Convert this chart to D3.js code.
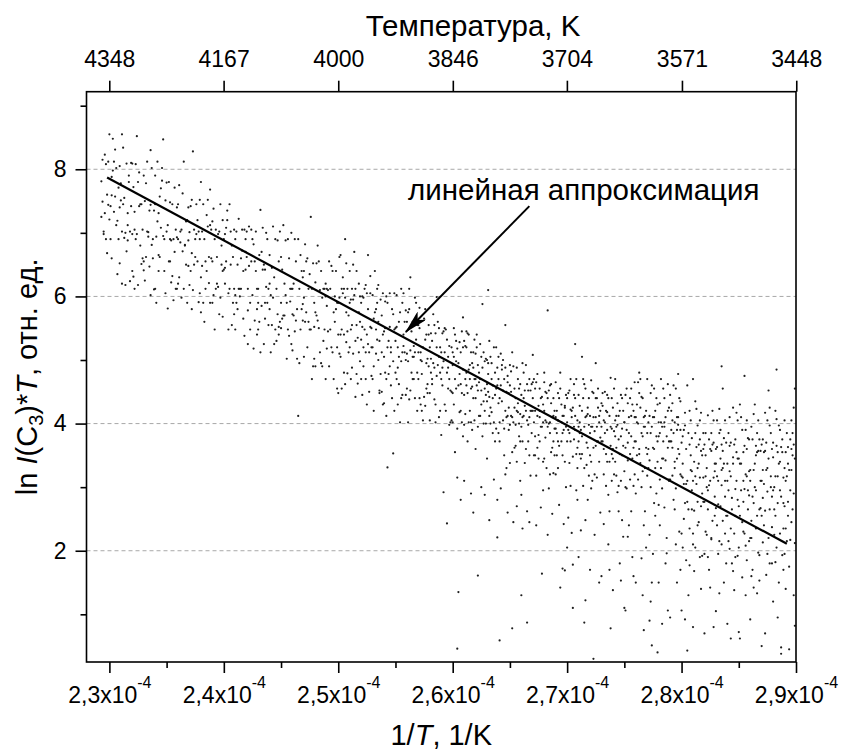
<!DOCTYPE html>
<html>
<head>
<meta charset="utf-8">
<script src="https://cdn.jsdelivr.net/npm/d3@7"></script>
<style>
  body { margin: 0; background: #fff; }
  svg { display: block; }
  text { font-family: "Liberation Sans", Arial, sans-serif; fill: #000; }
</style>
</head>
<body>
<svg id="chart" width="842" height="751"></svg>
<script>
// Axis ticks (1/T in units of 1e-4 1/K)
const xTicks = [2.3, 2.4, 2.5, 2.6, 2.7, 2.8, 2.9];
const xMinorTicks = [2.35, 2.45, 2.55, 2.65, 2.75, 2.85];
const yTicks = [2, 4, 6, 8];
const yMinorTicks = [1, 3, 5, 7, 9];
// Temperature labels on the top axis, K
const topTemps = [4348, 4167, 4000, 3846, 3704, 3571, 3448];

// Linear fit of ln I(C3)*T versus 1/T
const fitX = [2.298, 2.892];
const fitY = [7.87, 2.11];

// Annotation: label anchor and arrow from label to the fit line
const noteText = "линейная аппроксимация";
const notePos = [2.561, 7.52];
const arrowFrom = [2.667, 7.42];
const arrowTo = [2.559, 5.44];

// Measured points, grouped by 0.01 bins of 1/T.
// Row "229:..." = bin starting at 2.29; each token "dYYY" = x offset d (0.001), y = YYY/100.
const samples = [
"229:3781 5702 4815 7690 9744 6823 3725 8760 5698 9812 6731 4749 7808 8668",
"230:2788 7635 0721 4812 9740 1690 5757 3848 6802 8771 0855 2660 7719 4733 9805 1742 5831 6712 3798 8690 2759 9652",
"231:5809 1702 8624 3755 0751 6688 9742 2834 4618 7790 1855 3692 6731 0778 8702 5671 2745 9810 4700 7780 1620 6712",
"232:4852 0698 7745 2612 9705 5780 1631 3690 8651 6742 0809 4698 2733 7680 9660 1772 5618 3808 6795 8745 0640 2705",
"233:1750 6602 3812 8690 0641 5735 9611 2778 4694 7681 3702 0790 6744 8660 1625 9735 5647 2662 7802 4701 6830 0655",
"234:8690 2812 5708 0745 3640 7847 1590 9751 4662 6802 2718 8640 0612 5770 3731 7695 9605 1694 4757 6782 0790 3665",
"235:1581 6690 3748 9612 0702 4622 7771 2655 8705 5632 0779 3690 6594 9740 1712 4688 8612 2780 7670 5745 3655 9693",
"236:7650 0745 4671 2702 9688 5812 1630 8720 3598 6681 0620 4762 9648 2685 7718 1775 5612 8590 3705 6680 0690 9740",
"237:3828 0618 6745 2580 8702 4650 9690 1742 5662 7655 0701 3610 6698 9752 2668 8591 4705 1640 7720 5690 9605 2752",
"238:5640 1702 8768 0575 3690 7621 2745 9660 4612 6710 0780 8590 1648 5728 3560 9705 7662 2590 4655 6752 0630 8712",
"239:2690 6572 0718 9640 4620 7745 1602 5698 3612 8680 0655 6702 2548 9720 4662 7598 1738 3705 8650 5615 0590 9568",
"240:6702 1620 4548 9705 2655 7680 0690 5612 3735 8590 1645 6650 9612 2708 4605 7555 0642 5745 3720 8662 1698 9572",
"241:3612 8705 0548 5660 2580 9642 6672 1702 4600 7565 0690 3722 8538 5612 9670 2650 6705 1590 7640 4612 0602 9690",
"242:7562 2648 0702 5690 9612 3548 6682 1578 8640 4705 0662 5602 2710 7655 9540 1612 3590 6518 8702 4655 1525 9580",
"243:2736 6590 0548 4642 8690 3670 9612 1665 5525 7700 0612 3585 6642 9555 2512 8590 4708 1560 7615 5650 0590 6565",
"244:5548 1602 8655 3710 0580 6612 9560 2645 4525 7688 1512 5690 0620 8552 3598 9702 2555 6530 4630 7572 0665 8540",
"245:9612 3570 6690 0550 4602 2712 7538 1642 5590 8592 0662 3620 9525 6548 2570 4688 8612 1565 5502 7660 0590 9700",
"246:4502 0612 7665 2545 9588 5690 1570 6612 3562 8640 0515 4580 2690 9562 7548 5412 1620 8580 3655 6495 0572 9630",
"247:6725 1560 4612 9502 2655 7470 0598 5635 3520 8652 1682 6548 9590 4560 2575 7612 0505 5548 3660 8490 0640 9552",
"248:3550 8612 0490 5640 2562 9470 6598 1652 4512 7612 0575 3655 8548 5495 9620 2680 6490 1570 7530 4610 0622 9600",
"249:7560 2490 5640 0585 9520 3612 6470 1545 4648 8580 0612 5512 2655 9455 7600 3548 1610 6575 4520 8640 0518 9590",
"250:0448 8479 3612 5540 1598 7652 2505 9570 4630 6462 0590 3548 8612 5480 1662 7575 2540 9512 4605 6690 0540 3455 7528 5612 2665 8545 1510 6598",
"251:7463 2612 5530 0590 9498 3650 6555 1470 4602 8575 0520 3595 6640 9560 2488 5612 8512 1548 4670 7535 0640 3510 9600 6478 2555 5442 8620 1595",
"252:6665 1552 4470 8605 2520 0590 5540 9475 3612 7512 1445 6580 0532 4618 8552 2490 5605 9520 3548 7450 0470 6525 2598 8632 4512 1600 9550 5430",
"253:2640 6530 0470 4590 8512 3548 9605 1420 5560 7478 0602 3510 6448 9540 2575 5618 8450 4532 1565 7595 0520 6452 3580 9430 5500 8570 1490 4612",
"254:3331 8353 0545 5490 2600 6512 9420 1550 4478 7580 0432 3590 6520 9548 2470 5605 8498 1592 4530 7440 0505 5552 2412 9605 6460 3520 8572 1480",
"255:6512 0480 3560 9445 1602 5498 7540 2430 4575 8512 0550 6445 3505 9578 1470 5612 7522 2488 8560 4402 0530 6590 3462 9500 1552 5440 7605 2520",
"256:3630 7512 0455 5560 1498 9420 4545 2580 6470 8532 0510 3452 7598 5505 1402 9555 4480 6522 2438 8590 0560 5470 3515 9480 7440 1575 6505 2612",
"257:5442 6428 7455 1550 3478 0512 8502 2430 9555 4520 6580 0470 3498 7540 1440 5565 8462 2512 9490 4405 6532 0555 3420 7495 1582 8448 2500 9540",
"258:6599 2462 0520 4438 8505 1480 5542 9420 3495 7560 0448 6475 2530 8410 4555 1502 9480 5430 3572 7492 0405 6520 2470 8550 4488 1542 9520 5402",
"259:2292 5243 0512 7470 3430 9520 1488 6455 4548 8402 0470 5532 2498 9450 3512 7398 1542 6505 8452 4420 0382 5480 2545 9405 7522 1460 6488 3550",
"260:5135 4046 9567 0492 3455 7512 1430 6478 2540 8402 4518 0448 5495 9380 3530 7462 1505 6418 2470 8545 4392 0512 5460 9485 7420 3498 1550 6528 8448 2355 4315 7280 0402 9520",
"261:8260 2480 6512 0445 4402 9532 1470 5420 7495 3542 0398 6455 2520 8440 4485 9405 1522 5470 7390 3448 0530 6402 2460 8512 4540 9470 1415 5492 7458 3372 0310 6290 2545 8488",
"262:2161 6588 0470 4412 8498 1520 5452 9400 3480 7435 0510 6488 2395 8455 4525 1460 9502 5430 3412 7512 0440 6380 2492 8420 4470 1540 9445 5505 3465 7400 0360 5300 8288 2452",
"263:1610 2248 9221 0462 4418 7480 3505 5440 8392 1478 6520 0435 9460 2412 4495 7372 5460 3425 8520 0500 6402 1450 9488 2530 5385 7445 4470 3400 8455 0345 6312 9280 1495 2442",
"264:1059 6555 8260 0432 3485 7410 2460 5392 9448 4500 0470 6420 1402 8475 3435 5470 9390 2510 7450 4405 0385 6488 1440 8412 3492 5350 9425 7330 2298 4452 0505 6320 8465 1372",
"265:3245 2078 7432 0460 5398 9415 1482 6420 4362 8455 2410 0398 7470 5440 3402 9372 1450 6488 8400 4425 0492 2355 7418 5365 9462 1412 6340 3490 8380 4455 0338 6270 9310 2512",
"266:1235 5087 0130 3452 7410 9385 2440 6372 4420 8452 0395 5462 1410 7350 3428 9462 6398 2480 8420 4360 0445 5405 1372 7470 9420 3338 6452 2412 8318 4492 0288 5262 7245 1495",
"267:8164 4412 0440 2380 6455 9402 1350 5428 3465 7395 0420 8442 4362 2455 6410 9340 1470 5382 7440 3318 0465 6372 2420 8395 4478 9430 1402 5345 7268 3240 0508 6420 9295 2350",
"268:3578 0420 5385 8440 2402 6355 9420 1378 4452 7410 0345 3440 8372 5460 2330 6432 9392 1450 4400 7362 0465 3395 8412 5320 2448 6462 9350 1405 4298 7258 0480 3225 8322 5402",
"269:4142 6172 8169 0410 2372 5430 9395 1350 3440 7412 0392 4455 6350 8428 2405 5372 9445 1420 3365 7390 0320 4480 6412 8340 2448 5402 9300 1385 3272 7242 0465 6385 8425 2330",
"270:5110 0402 3372 7440 1390 8352 4420 9405 2338 6462 0372 5425 3302 7390 1448 9362 4410 8295 2452 6375 0440 5348 7412 3470 9330 1252 6395 4228 8470 2385 0205 5178 7525 3422 9280 6445",
"271:5087 6122 0395 3352 8425 1402 7370 4440 9318 2390 0445 6410 3380 8362 1428 5395 9440 2345 7412 4302 0372 6455 3420 8280 1352 5462 9398 2232 7335 4470 0190 6248 8415 3505 1385 5330",
"272:3030 0412 5365 8402 1340 6440 9378 2395 4320 7425 0385 5410 3448 8340 1395 6372 9420 2310 7455 4388 0350 5440 3362 8412 1298 6395 9260 2450 7372 4225 0170 5495 8150 3410 6315 1468",
"273:8078 2405 5340 0372 7412 3385 9352 1428 4302 6440 0395 8365 2320 5418 9392 3450 7340 1372 4420 6288 0432 8395 2360 5445 9310 3402 7262 1448 4352 6210 0160 8472 2242 5390 9440 7170",
"274:7153 2380 5412 0345 8392 3362 9420 1320 4398 6352 0425 7380 2340 5302 8440 3412 9365 1388 4292 6420 0360 7445 2405 5262 8350 3318 9222 1455 4432 6180 0138 7310 2470 5375 8248 3395",
"275:1106 6380 3342 0402 8362 4410 9320 2390 5352 7430 0325 6412 3370 1445 8302 4385 9410 2298 5440 7345 0402 6262 3432 1362 8420 4240 9372 2455 5312 7190 0110 6455 3222 8160 1300 9465",
"276:7075 3352 0410 5385 8330 1402 6440 9362 2312 4425 0372 7395 3448 5300 8412 1350 6380 9420 2465 4338 0290 7410 3360 5442 8262 1430 6325 9205 2400 4470 0150 7240 3480 5188 8395 6130",
"277:4051 9040 2090 0352 6410 3385 7330 1402 5362 8440 0318 4395 9372 2342 6455 3300 7420 1360 5410 8290 0385 4460 9340 2412 6275 3448 7255 1330 5195 8380 0470 4150 9430 2225 6360 3120",
"278:8106 7196 0380 3345 5402 1312 9425 4372 2330 6410 0402 8362 3298 5440 1385 9312 7380 4455 2402 6342 0272 8420 3395 5268 1432 9372 7220 4345 2470 6180 0150 8462 3085 5395 1240 9310",
"279:0372 4330 7410 2362 9390 5298 1420 6345 3385 8440 0312 4402 7360 2432 9320 5455 1372 6410 3280 8352 0445 4265 7398 2318 9435 5210 1390 6150 3460 8230 0095 4340 7478 2405 9170 6390",
"280:5460 5043 0317 3275 7367 1337 9295 4360 2250 6385 8327 0370 3397 5277 7235 1315 9377 4305 2390 6265 8350 0227 3417 5310 7177 1380 9325 4185 2305 6130 0106 8405 3092 7420 1205 9265",
"281:0310 4277 7357 2385 9315 5337 1263 6375 3305 8350 0227 4397 7270 2317 9385 5245 1340 6405 3363 8290 0210 4330 7417 2205 9277 5367 1168 6315 3423 8192 0080 4240 7140 2435 9360 6190 0470",
"282:0070 8080 3295 6357 1317 9285 4375 7247 2330 5310 0367 8405 3265 6220 1385 9337 4303 7367 2225 5360 0277 8315 3413 6218 1350 9255 4170 7420 2300 5142 0195 8370 3190 6385 1230 9325",
"283:6455 3133 0337 8285 5367 1317 9255 4345 2310 7377 0267 6330 3385 8227 5303 1405 9370 4270 2195 7337 0360 6247 3423 8310 5210 1363 9180 4390 2273 7150 0105 6357 3215 8405 1240 5327 5490",
"284:2365 7297 0255 5337 9280 3317 1385 6227 8355 4265 0310 7375 2203 5347 9405 3235 1295 6367 8310 4180 0337 7255 2410 5168 9345 3370 1215 6138 8417 4283 0085 7190 2325 5425 9192 3062",
"285:1062 4355 0270 7317 3245 9375 5297 2337 8265 6390 0205 4310 7360 1255 9325 3390 5227 2410 8295 6208 0345 4277 7405 1337 9215 3158 5365 2295 8377 6130 0072 4230 7185 1430 9287 6320 5475",
"286:6133 8153 0327 3275 5365 1247 9310 7357 2285 4337 0220 6385 3327 8265 5235 1395 9357 7197 2375 4300 0310 6255 3415 8193 5350 1160 9267 7405 2170 4430 0092 6355 3142 8375 1220 5295",
"287:3070 0310 7265 4327 9237 1375 5293 2355 8317 6220 0367 3263 7397 1327 9285 4370 5195 2305 8385 6345 0255 3417 7180 1283 9360 4162 5405 2240 8300 6452 0050 3357 7425 1213 9180 5330",
"288:4095 7048 7038 0295 5337 2255 9315 3365 6227 1300 8375 0347 4275 9235 2317 6390 3205 7363 1265 5397 8193 0370 4317 9275 2182 6340 3407 1225 8355 5150 0120 7285 2420 9170 6295 4355 3485",
"289:0330 3277 6245 8367 1310 5217 9345 2385 7265 4327 0195 3363 6405 8290 1235 5375 9212 2317 7350 4175 0405 3255 6327 8425 1140 5295 9082 2215 7385 4045 0270 6360 8130 3337 9455 1355"
];

// Decode the measurement rows into {x, y}
const points = samples.flatMap(row => {
  const [bin, list] = row.split(":");
  const base = +bin / 100;
  return list.trim().split(/\s+/).map(t => ({
    x: base + (+t[0]) / 1000,
    y: (+t.slice(1)) / 100
  }));
});

const svg = d3.select("#chart");
const plotLeft = 86.5, plotRight = 796, plotTop = 91.7, plotBottom = 662;

const x = d3.scaleLinear().domain([2.28, 2.90]).range([plotLeft, plotRight]);
const y = d3.scaleLinear().domain([0.25, 9.22]).range([plotBottom, plotTop]);

// Arrowhead marker
svg.append("defs").append("marker")
  .attr("id", "arrow")
  .attr("markerUnits", "userSpaceOnUse")
  .attr("viewBox", "0 0 24 12")
  .attr("refX", 23).attr("refY", 6)
  .attr("markerWidth", 24).attr("markerHeight", 12)
  .attr("orient", "auto")
  .append("path")
  .attr("d", "M0,0 L24,6 L0,12 L6,6 Z")
  .attr("fill", "#000");

// Dashed horizontal grid lines
svg.append("g")
  .selectAll("line").data(yTicks).join("line")
  .attr("x1", plotLeft).attr("x2", plotRight)
  .attr("y1", d => y(d)).attr("y2", d => y(d))
  .attr("stroke", "#a8a8a8").attr("stroke-width", 1)
  .attr("stroke-dasharray", "4,3");

// Scatter points
svg.append("g")
  .selectAll("circle").data(points).join("circle")
  .attr("cx", d => x(d.x)).attr("cy", d => y(d.y))
  .attr("r", 1.1)
  .attr("fill", "#1e1e1e");

// Linear fit
svg.append("path")
  .datum(fitX.map((v, i) => [v, fitY[i]]))
  .attr("d", d3.line().x(d => x(d[0])).y(d => y(d[1])))
  .attr("fill", "none").attr("stroke", "#000").attr("stroke-width", 2.2);

// Frame
svg.append("rect")
  .attr("x", plotLeft).attr("y", plotTop)
  .attr("width", plotRight - plotLeft).attr("height", plotBottom - plotTop)
  .attr("fill", "none").attr("stroke", "#000").attr("stroke-width", 1.6);

function styleAxis(g) {
  g.select(".domain").remove();
  g.selectAll(".tick line").attr("stroke", "#000").attr("stroke-width", 1.6);
  g.selectAll(".tick text").attr("font-size", 23).attr("font-family", "Liberation Sans, Arial, sans-serif").attr("fill", "#000");
}

// Bottom axis: major ticks with "2,3x10-4" style labels, plus minor ticks
const fmtComma = d => d.toFixed(1).replace(".", ",");
const gx = svg.append("g").attr("transform", `translate(0,${plotBottom})`)
  .call(d3.axisBottom(x).tickValues(xTicks).tickSize(11).tickSizeOuter(0).tickFormat(""))
  .call(styleAxis);
gx.selectAll(".tick text").each(function(d) {
  const t = d3.select(this).attr("y", 41).attr("dy", "0").text(null);
  t.append("tspan").text(fmtComma(d) + "x10");
  t.append("tspan").attr("dy", -15).attr("font-size", 16).text("-4");
});
svg.append("g").attr("transform", `translate(0,${plotBottom})`)
  .call(d3.axisBottom(x).tickValues(xMinorTicks).tickSize(6).tickSizeOuter(0).tickFormat(""))
  .call(styleAxis);

// Left axis
svg.append("g").attr("transform", `translate(${plotLeft},0)`)
  .call(d3.axisLeft(y).tickValues(yTicks).tickSize(11).tickPadding(9).tickSizeOuter(0).tickFormat(d3.format("d")))
  .call(styleAxis);
svg.append("g").attr("transform", `translate(${plotLeft},0)`)
  .call(d3.axisLeft(y).tickValues(yMinorTicks).tickSize(6).tickSizeOuter(0).tickFormat(""))
  .call(styleAxis);

// Top axis: temperature T = 1/(1/T)
svg.append("g").attr("transform", `translate(0,${plotTop})`)
  .call(d3.axisTop(x).tickValues(topTemps.map(t => 1e4 / t)).tickSize(11).tickPadding(14).tickSizeOuter(0)
    .tickFormat((d, i) => topTemps[i]))
  .call(styleAxis);

// Axis titles
svg.append("text")
  .attr("x", 473).attr("y", 36)
  .attr("text-anchor", "middle").attr("font-size", 29.5)
  .text("Температура, K");

const xt = svg.append("text")
  .attr("x", (plotLeft + plotRight) / 2).attr("y", 745)
  .attr("text-anchor", "middle").attr("font-size", 29);
xt.append("tspan").text("1/");
xt.append("tspan").attr("font-style", "italic").text("T");
xt.append("tspan").text(", 1/K");

const yt = svg.append("text")
  .attr("transform", `translate(37,${(plotTop + plotBottom) / 2}) rotate(-90)`)
  .attr("text-anchor", "middle").attr("font-size", 29);
yt.append("tspan").text("ln ");
yt.append("tspan").attr("font-style", "italic").text("I");
yt.append("tspan").text("(C");
yt.append("tspan").attr("font-size", 20).attr("dy", 6).text("3");
yt.append("tspan").attr("dy", -6).text(")*");
yt.append("tspan").attr("font-style", "italic").text("T");
yt.append("tspan").text(", отн. ед.");

// Annotation with arrow pointing at the fit line
svg.append("text")
  .attr("x", x(notePos[0])).attr("y", y(notePos[1]))
  .attr("font-size", 29.5)
  .text(noteText);
svg.append("line")
  .attr("x1", x(arrowFrom[0])).attr("y1", y(arrowFrom[1]))
  .attr("x2", x(arrowTo[0])).attr("y2", y(arrowTo[1]))
  .attr("stroke", "#000").attr("stroke-width", 2)
  .attr("marker-end", "url(#arrow)");
</script>
</body>
</html>
